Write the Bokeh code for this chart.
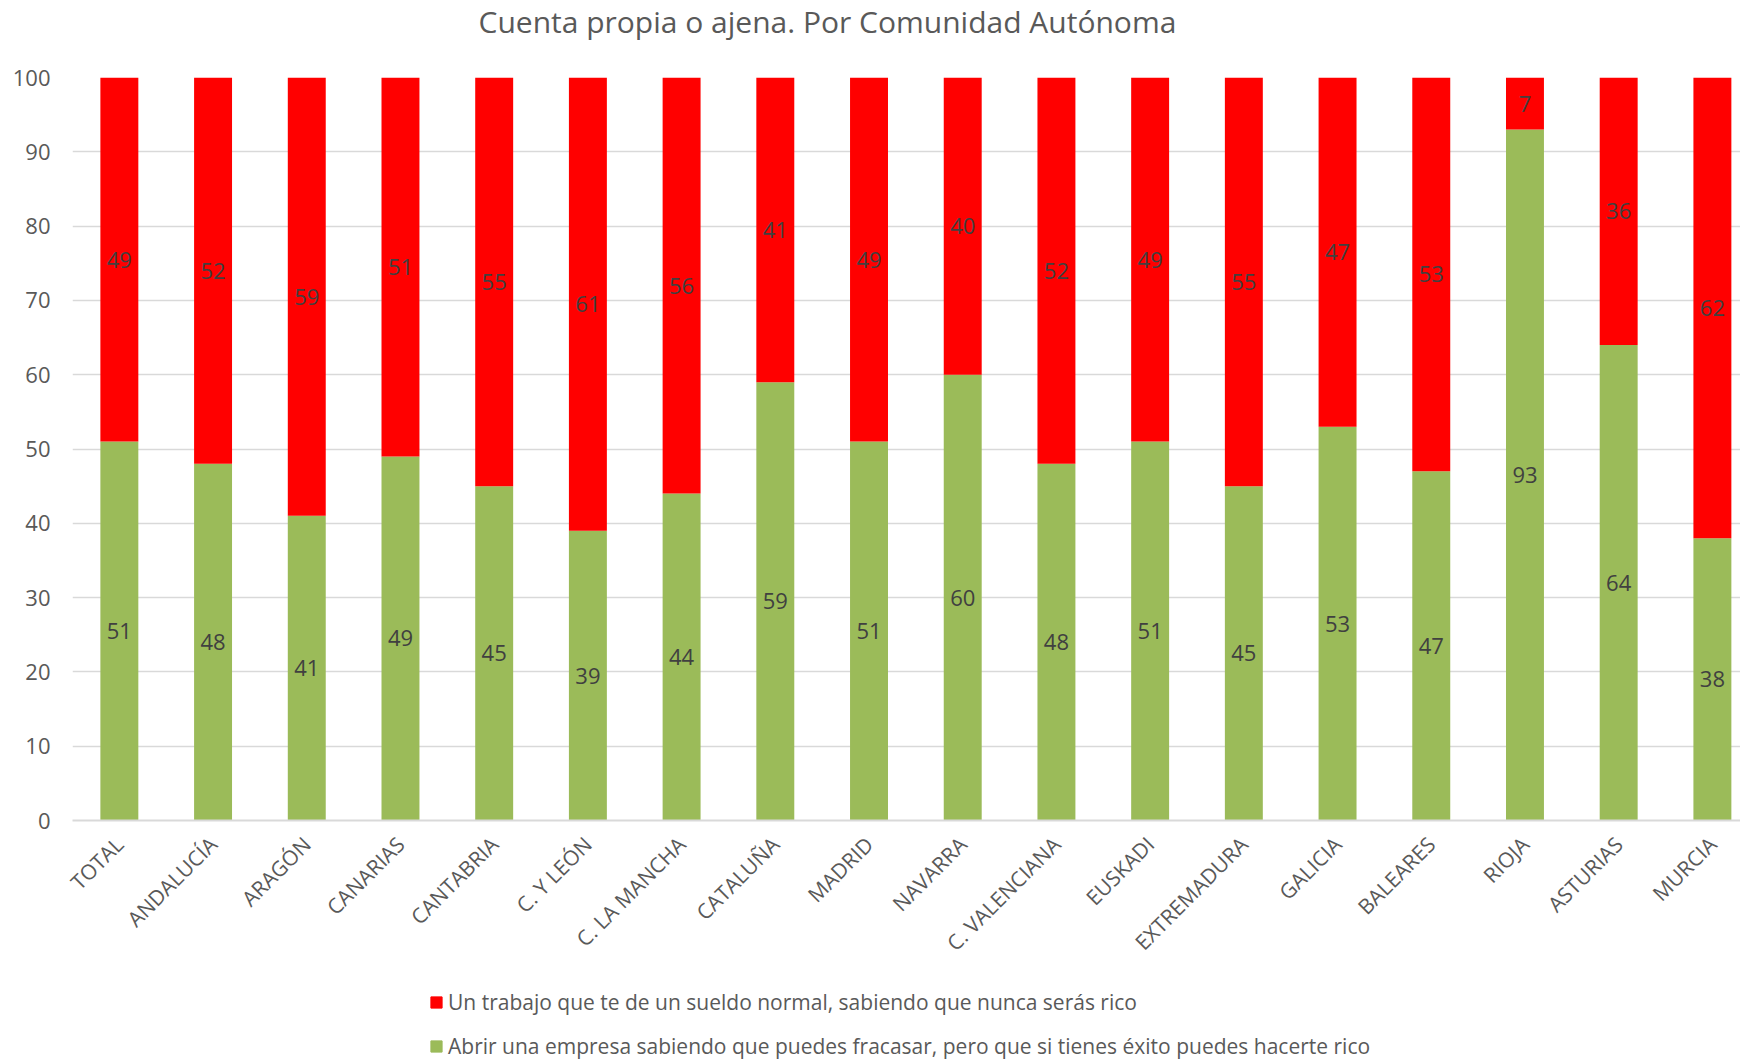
import math
from bokeh.plotting import figure
from bokeh.layouts import column
from bokeh.models import (ColumnDataSource, Range1d, FixedTicker, Legend, LegendItem, Label)
from bokeh.core.properties import value
from bokeh.embed import file_html
from bokeh.resources import INLINE

categories = ["TOTAL", "ANDALUCÍA", "ARAGÓN", "CANARIAS", "CANTABRIA", "C. Y LEÓN",
              "C. LA MANCHA", "CATALUÑA", "MADRID", "NAVARRA", "C. VALENCIANA",
              "EUSKADI", "EXTREMADURA", "GALICIA", "BALEARES", "RIOJA", "ASTURIAS", "MURCIA"]
abrir = [51, 48, 41, 49, 45, 39, 44, 59, 51, 60, 48, 51, 45, 53, 47, 93, 64, 38]
trabajo = [49, 52, 59, 51, 55, 61, 56, 41, 49, 40, 52, 49, 55, 47, 53, 7, 36, 62]
y_ticks = [0, 10, 20, 30, 40, 50, 60, 70, 80, 90, 100]

label_trabajo = "Un trabajo que te de un sueldo normal, sabiendo que nunca serás rico"
label_abrir = "Abrir una empresa sabiendo que puedes fracasar, pero que si tienes éxito puedes hacerte rico"
title_text = "Cuenta propia o ajena. Por Comunidad Autónoma"

FONT = "Open Sans"
GREEN = "#9BBB59"
RED = "#FF0000"
TXT = "#595959"
W = 1740


def strip(h):
    f = figure(width=W, height=h, output_backend="svg", toolbar_location=None,
               x_axis_type=None, y_axis_type=None, x_range=Range1d(0, 1), y_range=Range1d(0, 1),
               min_border=0, outline_line_color=None)
    f.xgrid.grid_line_color = None
    f.ygrid.grid_line_color = None
    return f


# title strip
head = strip(56)
head.add_layout(Label(x=406, y=35, x_units="screen", y_units="screen", text=title_text,
                      text_font=FONT, text_font_size="30px", text_color=TXT,
                      text_baseline="middle", text_align="left"))

xs = list(range(len(categories)))
src = ColumnDataSource(dict(
    x=xs,
    abrir=abrir,
    trabajo=trabajo,
    y_abrir=[a / 2 for a in abrir],
    y_trabajo=[a + t / 2 for a, t in zip(abrir, trabajo)],
    t_abrir=[str(a) for a in abrir],
    t_trabajo=[str(t) for t in trabajo],
))

p = figure(width=W, height=922, output_backend="svg", toolbar_location=None,
           x_range=Range1d(-0.5, 17.30), y_range=Range1d(0, 100),
           min_border_left=72, min_border_right=0, min_border_top=21, min_border_bottom=158)

rs = p.vbar_stack(["abrir", "trabajo"], x="x", width=0.405, color=[GREEN, RED],
                  line_color=None, source=src)

for ycol, tcol in (("y_abrir", "t_abrir"), ("y_trabajo", "t_trabajo")):
    p.text(x="x", y=ycol, text=tcol, source=src, text_align="center",
           text_baseline="middle", text_font=value(FONT), text_font_size="22px",
           text_color="#404040")

p.outline_line_color = None
p.xgrid.grid_line_color = None
p.ygrid.grid_line_color = "#D9D9D9"
p.ygrid.grid_line_width = 1.3
p.yaxis.ticker = FixedTicker(ticks=y_ticks)
p.xaxis.ticker = FixedTicker(ticks=xs)
p.xaxis.major_label_overrides = {i: c for i, c in enumerate(categories)}
p.xaxis.major_label_orientation = math.pi / 4

for ax in (p.xaxis[0], p.yaxis[0]):
    ax.major_tick_line_color = None
    ax.minor_tick_line_color = None
    ax.major_label_text_font = FONT
    ax.major_label_text_color = TXT
p.xaxis.major_label_text_font_size = "21px"
p.yaxis.major_label_text_font_size = "22px"
p.yaxis.axis_line_color = None
p.yaxis.major_label_standoff = 16
p.xaxis.axis_line_color = "#D9D9D9"
p.xaxis.axis_line_width = 2
p.xaxis.major_label_standoff = 14

# legend strip below the chart
leg = strip(82)
dummy = ColumnDataSource(dict(x=[5], top=[5]))
r_red = leg.vbar(x="x", top="top", width=0.1, color=RED, source=dummy)
r_green = leg.vbar(x="x", top="top", width=0.1, color=GREEN, source=dummy)
legend = Legend(items=[LegendItem(label=label_trabajo, renderers=[r_red]),
                       LegendItem(label=label_abrir, renderers=[r_green])],
                location=(357, 0), orientation="vertical",
                glyph_width=14, glyph_height=14, label_height=22,
                label_text_font=FONT, label_text_font_size="21px", label_text_color=TXT,
                label_standoff=5, spacing=16, padding=0, margin=0,
                border_line_alpha=0, background_fill_alpha=0)
leg.add_layout(legend, "center")

page = column(head, p, leg, spacing=0)
open("out.html", "w").write(file_html(page, INLINE))
